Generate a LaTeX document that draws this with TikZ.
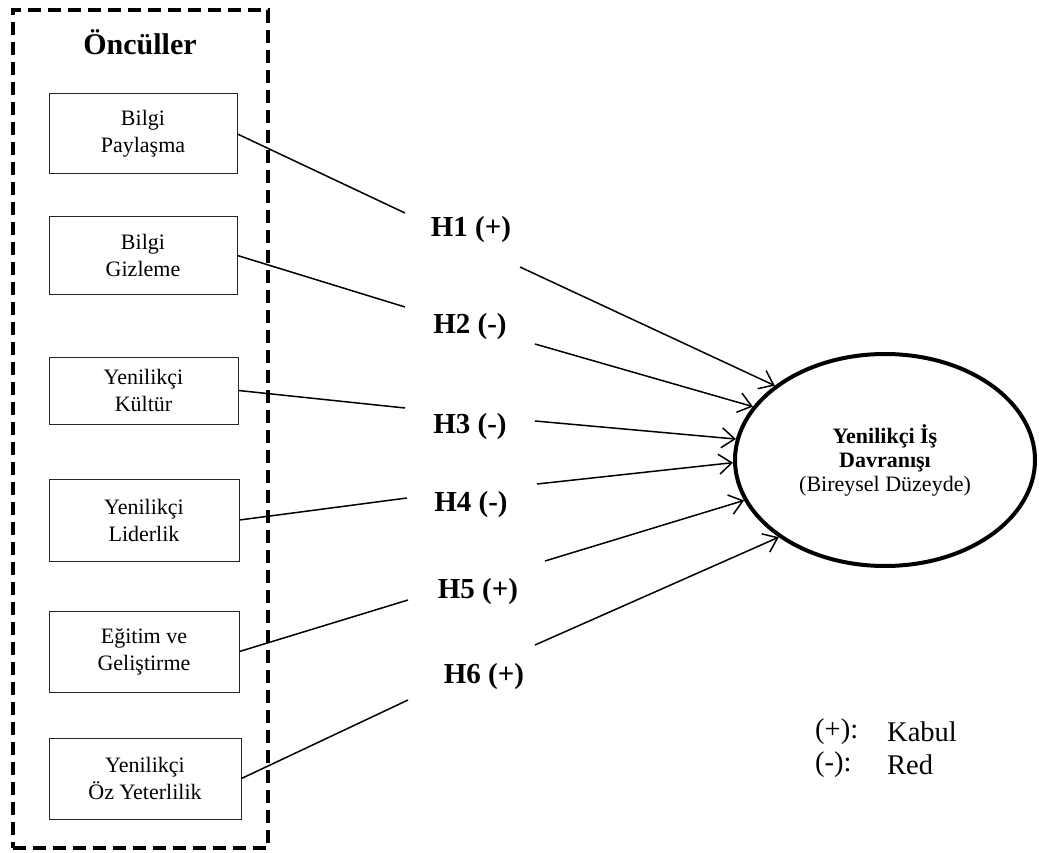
\documentclass[tikz,border=0pt]{standalone}
\usepackage{fontspec}
\setmainfont{Liberation Serif}
\usetikzlibrary{arrows.meta,shapes.geometric}
\begin{document}
\begin{tikzpicture}[x=1pt,y=-1pt,
  frame/.style={draw, line width=4.5pt, dash pattern=on 13pt off 7pt, minimum width=255pt, minimum height=838pt, inner sep=0pt},
  box/.style={draw=black!85, line width=1pt, minimum width=188pt, inner sep=0pt, align=center, font=\fontsize{22}{27}\selectfont},
  hlab/.style={font=\fontsize{29}{32}\selectfont\bfseries, inner sep=0pt},
  conn/.style={line width=1.5pt},
  arr/.style={line width=1.5pt, -{Straight Barb[length=13pt,width=20pt,line width=1.5pt]}},
  legend/.style={font=\fontsize{28.5}{31}\selectfont, anchor=west, inner sep=0pt}
]
\useasboundingbox (0,0) rectangle (1039,853);

% frame and title
\node[frame] (frame) at (140.5,429) {};
\node[font=\fontsize{30}{34}\selectfont\bfseries, inner sep=0pt] (title) at (140,42) {Öncüller};

% antecedent boxes
\node[box, minimum height=80pt] (b1) at (143,134) {Bilgi\\Paylaşma};
\node[box, minimum height=77pt] (b2) at (143,255.5) {Bilgi\\Gizleme};
\node[box, minimum height=67pt, minimum width=189pt] (b3) at (143.5,390.5) {Yenilikçi\\Kültür};
\node[box, minimum height=82pt, minimum width=190pt] (b4) at (144,520) {Yenilikçi\\Liderlik};
\node[box, minimum height=81pt, minimum width=190pt] (b5) at (144,651.5) {Eğitim ve\\Geliştirme};
\node[box, minimum height=81pt, minimum width=192pt] (b6) at (145,778.5) {Yenilikçi\\Öz Yeterlilik};

% outcome ellipse
\node[ellipse, draw, line width=4pt, minimum width=300pt, minimum height=212pt, inner sep=0pt, align=center, font=\fontsize{22}{24}\selectfont] (ell) at (885,460)
  {\textbf{Yenilikçi İş}\\\textbf{Davranışı}\\(Bireysel Düzeyde)};

% hypothesis labels
\node[hlab] (h1) at (471,230) {H1 (+)};
\node[hlab] (h2) at (470,327) {H2 (-)};
\node[hlab] (h3) at (470,427) {H3 (-)};
\node[hlab] (h4) at (471,505) {H4 (-)};
\node[hlab] (h5) at (478,592) {H5 (+)};
\node[hlab] (h6) at (484,677) {H6 (+)};

% free ends of connectors
\coordinate (l1) at (405,213);
\coordinate (l2) at (405,307);
\coordinate (l3) at (405,408);
\coordinate (l4) at (407,498);
\coordinate (l5) at (408,600);
\coordinate (l6) at (408,700);
\coordinate (a1) at (520,267);
\coordinate (a2) at (535,344);
\coordinate (a3) at (535,421);
\coordinate (a4) at (537,484);
\coordinate (a5) at (545,561);
\coordinate (a6) at (535,645);

% box to label
\draw[conn] (b1.east) -- (l1);
\draw[conn] (b2.east) -- (l2);
\draw[conn] (b3.east) -- (l3);
\draw[conn] (b4.east) -- (l4);
\draw[conn] (b5.east) -- (l5);
\draw[conn] (b6.east) -- (l6);

% label to ellipse
\draw[arr] (a1) -- (ell.146);
\draw[arr] (a2) -- (ell.158.8);
\draw[arr] (a3) -- (ell.172.7);
\draw[arr] (a4) -- (ell.181);
\draw[arr] (a5) -- (ell.196.6);
\draw[arr] (a6) -- (ell.216);

% legend
\node[legend] (lg1) at (815,732) {(+):};
\node[legend] (lg2) at (887,732) {Kabul};
\node[legend] (lg3) at (815,765) {(-):};
\node[legend] (lg4) at (887,765) {Red};
\end{tikzpicture}
\end{document}
